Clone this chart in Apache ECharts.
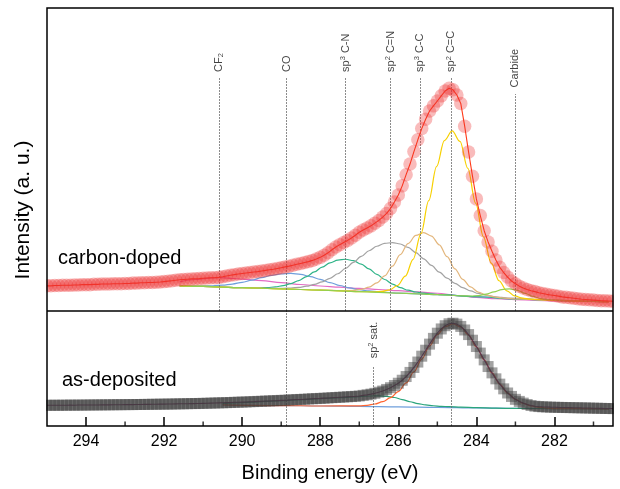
<!DOCTYPE html>
<html>
<head>
<meta charset="utf-8">
<script src="https://cdn.jsdelivr.net/npm/echarts@6.0.0/dist/echarts.min.js"></script>
<style>
html,body{margin:0;padding:0;background:#fff;}
#chart{width:620px;height:489px;}
</style>
</head>
<body>
<div id="chart"></div>
<script>
// ---------------- DATA ----------------
// Sampling grid of both spectra: 295.0 eV down to 280.5 eV, 0.1 eV step
const E_START = 295.0;
const E_STEP = 0.1;

// carbon-doped spectrum (upper panel, a.u.)
const carbonDoped = [
  8.3,8.3,8.4,8.4,8.5,8.5,8.5,8.6,8.6,8.7,
  8.7,8.7,8.8,8.8,8.9,8.9,8.9,9.0,9.0,9.0,
  9.1,9.1,9.2,9.2,9.3,9.3,9.4,9.4,9.5,9.55,
  9.7,9.85,10.0,10.15,10.3,10.4,10.5,10.6,10.65,10.7,
  10.8,10.9,10.95,11.0,11.1,11.3,11.55,11.8,12.0,12.2,
  12.4,12.55,12.7,12.85,13.0,13.2,13.4,13.6,13.8,14.05,
  14.3,14.55,14.8,15.1,15.4,15.7,16.0,16.3,16.7,17.15,
  17.7,18.4,19.2,20.2,21.1,21.9,22.6,23.3,24.1,25.0,
  26.0,26.7,27.4,28.1,29.0,29.9,31.0,32.2,33.8,36.0,
  38.3,41.3,45.0,48.5,52.6,56.5,60.2,63.3,66.0,67.7,
  69.3,71.0,72.6,73.5,73.0,71.3,68.5,61.0,52.5,44.5,
  37.0,31.5,26.5,22.8,19.7,16.8,14.4,12.7,11.2,9.9,
  9.0,8.2,7.6,7.1,6.7,6.4,6.0,5.75,5.5,5.3,
  5.1,4.9,4.65,4.5,4.35,4.2,4.05,3.9,3.8,3.7,
  3.6,3.5,3.4,3.35,3.3,3.2
];

// as-deposited spectrum (lower panel, a.u.)
const asDeposited = [
  18.0,18.0,18.1,18.0,18.1,18.1,18.2,18.1,18.2,18.2,
  18.2,18.3,18.3,18.3,18.4,18.4,18.4,18.5,18.5,18.5,
  18.6,18.6,18.6,18.7,18.7,18.8,18.8,18.9,18.9,19.0,
  19.0,19.1,19.1,19.2,19.3,19.3,19.4,19.5,19.5,19.6,
  19.7,19.8,19.9,20.0,20.1,20.2,20.3,20.4,20.6,20.7,
  20.8,20.9,21.1,21.2,21.4,21.5,21.7,21.8,22.0,22.1,
  22.3,22.4,22.6,22.8,23.0,23.1,23.3,23.5,23.7,23.85,
  24.0,24.2,24.4,24.6,24.8,25.0,25.2,25.4,25.6,25.8,
  26.1,26.65,27.1,27.7,28.4,29.4,30.4,31.8,33.3,35.2,
  37.2,39.8,43.0,46.6,50.9,55.6,60.7,65.9,71.2,76.2,
  80.7,84.4,87.2,88.9,89.4,88.6,86.6,83.5,79.5,74.6,
  69.1,63.4,57.5,51.7,46.2,41.0,36.4,32.3,28.7,25.7,
  23.2,21.4,19.9,18.7,17.8,17.2,16.9,16.7,16.55,16.4,
  16.3,16.2,16.15,16.05,16.0,15.9,15.85,15.75,15.7,15.6,
  15.5,15.45,15.35,15.25,15.2,15.1
];

// fitted components of the carbon-doped spectrum: [eV, a.u.]
const cdCF2 = [[291.6,9.6],[291.2,10.4],[290.9,10.8],[290.6,11.0],[290.3,10.8],[290.0,10.5],[289.5,10.0],[289.0,9.35],[288.5,8.75],[288.0,8.25],[287.5,7.85],[287.0,7.45],[286.5,7.1],[286.0,6.7],[285.5,6.3],[285.0,5.85],[284.5,5.1],[284.0,4.5],[283.5,4.05],[283.0,3.75],[282.5,3.5],[282.0,3.35],[281.0,3.2],[280.6,3.1]];
const cdCO = [[291.6,8.3],[291.0,8.26],[290.75,8.33],[290.5,8.52],[290.25,8.9],[290.0,9.46],[289.75,10.2],[289.5,11.02],[289.25,11.77],[289.0,12.28],[288.75,12.4],[288.5,12.08],[288.25,11.37],[288.0,10.42],[287.75,9.38],[287.5,8.41],[287.25,7.63],[287.0,7.02],[286.75,6.61],[286.5,6.31],[286.25,6.1],[286.0,5.9],[285.0,5.4],[284.0,4.7],[283.0,4.0],[282.0,3.5],[281.0,3.2],[280.6,3.1]];
const cdSp3CN = [[291.6,8.3],[291.0,8.1],[290.0,7.7],[289.75,7.66],[289.55,7.66],[289.35,7.74],[289.15,7.95],[288.95,8.36],[288.75,9.04],[288.55,10.04],[288.35,11.36],[288.15,12.9],[287.95,14.5],[287.75,15.88],[287.55,16.81],[287.35,17.08],[287.15,16.61],[286.95,15.48],[286.75,13.9],[286.55,12.12],[286.35,10.4],[286.15,8.9],[285.95,7.72],[285.75,6.86],[285.55,6.27],[285.35,5.88],[285.15,5.62],[284.95,5.43],[284.0,4.7],[283.0,4.0],[282.0,3.5],[281.0,3.2],[280.6,3.1]];
const cdSp2CN = [[291.6,8.3],[291.0,8.1],[290.0,7.7],[289.15,7.47],[288.95,7.5],[288.75,7.59],[288.55,7.8],[288.35,8.18],[288.15,8.77],[287.95,9.64],[287.75,10.8],[287.55,12.29],[287.35,14.05],[287.15,16.03],[286.95,18.02],[286.75,19.88],[286.55,21.37],[286.35,22.31],[286.15,22.58],[285.95,22.11],[285.75,20.97],[285.55,19.28],[285.35,17.22],[285.15,15.03],[284.95,12.84],[284.75,10.84],[284.55,9.11],[284.35,7.71],[284.15,6.62],[283.95,5.81],[283.75,5.21],[283.55,4.78],[283.35,4.47],[283.15,4.22],[282.0,3.5],[281.0,3.2],[280.6,3.1]];
const cdSp3CC = [[291.6,8.3],[291.0,8.1],[290.0,7.7],[289.0,7.3],[288.0,6.9],[287.35,6.69],[287.15,6.78],[286.95,7.11],[286.75,7.86],[286.55,9.31],[286.35,11.6],[286.15,14.81],[285.95,18.59],[285.75,22.26],[285.55,24.94],[285.35,25.88],[285.15,24.74],[284.95,21.85],[284.75,17.94],[284.55,13.92],[284.35,10.47],[284.15,7.94],[283.95,6.25],[283.75,5.26],[283.55,4.69],[283.35,4.36],[283.0,4.0],[282.0,3.5],[281.0,3.2],[280.6,3.1]];
const cdSp2CC = [[291.6,8.3],[291.0,8.1],[290.0,7.7],[289.0,7.3],[288.0,6.9],[287.0,6.4],[286.62,6.31],[286.42,6.45],[286.22,6.99],[286.02,8.42],[285.82,11.51],[285.62,17.06],[285.42,25.54],[285.22,36.41],[285.02,47.66],[284.82,56.26],[284.62,59.43],[284.42,55.98],[284.22,47.1],[284.02,35.61],[283.82,24.5],[283.62,15.78],[283.42,9.99],[283.22,6.66],[283.02,4.99],[282.82,4.25],[282.62,3.91],[282.0,3.5],[281.0,3.2],[280.6,3.1]];
const cdCarbide = [[291.6,8.3],[291.0,8.1],[290.0,7.7],[289.0,7.3],[288.0,6.9],[287.0,6.4],[286.0,5.9],[285.0,5.4],[284.35,4.99],[284.15,4.95],[283.95,5.1],[283.75,5.57],[283.55,6.33],[283.35,7.07],[283.15,7.31],[282.95,6.8],[282.75,5.82],[282.55,4.82],[282.35,4.11],[282.15,3.72],[281.95,3.53],[281.0,3.2],[280.6,3.1]];

// fitted components of the as-deposited spectrum: [eV, a.u.]
const adBackground = [[290.5,18.4],[289.0,17.8],[288.0,17.4],[287.0,17.0],[286.0,16.6],[285.0,16.2],[284.0,15.7],[283.0,15.3],[282.0,15.1],[280.6,14.9]];
const adSp2Sat = [[290.5,19.6],[290.0,20.4],[289.5,21.2],[289.0,22.0],[288.5,22.9],[288.0,23.8],[287.5,24.6],[287.0,25.6],[286.7,26.1],[286.5,26.2],[286.3,25.8],[286.1,24.8],[285.9,23.0],[285.7,21.1],[285.5,19.5],[285.3,18.3],[285.1,17.6],[284.9,17.1],[284.7,16.8],[284.4,16.4],[284.0,15.9],[283.5,15.5],[283.0,15.3],[282.0,15.1],[280.6,14.9]];
const adSp2 = [[290.5,18.4],[289.0,17.8],[288.0,17.4],[287.0,17.49],[286.8,18.02],[286.6,19.12],[286.4,21.16],[286.2,24.6],[286.0,29.9],[285.8,37.42],[285.6,47.04],[285.4,58.16],[285.2,69.48],[285.0,79.5],[284.8,86.3],[284.6,88.7],[284.4,86.1],[284.2,79.1],[284.0,68.9],[283.8,57.42],[283.6,46.14],[283.4,36.36],[283.2,28.68],[283.0,23.22],[282.8,19.66],[282.6,17.5],[282.4,16.28],[282.2,15.63],[282.0,15.1],[280.6,14.9]];

// peak assignments (binding energies, eV) and their labels
const cdMarkerEnergy = [290.6, 288.86, 287.35, 286.2, 285.45, 284.65, 283.0];
const cdMarkerText = ['CF{sub|2}', 'CO', 'sp{sup|3} C-N', 'sp{sup|2} C=N', 'sp{sup|3} C-C', 'sp{sup|2} C=C', 'Carbide'];
const adMarkerEnergy = [288.86, 286.63, 284.65];
const adMarkerText = ['', 'sp{sup|2} sat.', ''];

// axis ticks
const xMajorTicks = [282, 284, 286, 288, 290, 292, 294];
const xMinorTicks = [281, 283, 285, 287, 289, 291, 293];

// ---------------- build ----------------
const toPairs = arr => arr.map((v, i) => [+(E_START - i * E_STEP).toFixed(2), v]);

// annotation layout (in each panel's value units)
const cdLineTop = [77.1, 77.1, 77.1, 77.1, 77.1, 77.1, 71.6];
const cdLabelAt = [78.9, 78.9, 78.9, 78.9, 78.9, 78.9, 73.8];
const adLineTop = [100, 51.6, 100];
const adLabelAt = [null, 58.9, null];

const FONT = '"Liberation Sans", Arial, sans-serif';
const vLineStyle = { color: '#6e6e6e', width: 0.8, type: [2, 1] };
const labelRich = {
  sup: { fontSize: 7.5, lineHeight: 8, verticalAlign: 'top', color: '#111', fontFamily: FONT },
  sub: { fontSize: 7.5, lineHeight: 8, verticalAlign: 'bottom', color: '#111', fontFamily: FONT }
};

function comp(name, data, color, xi, yi) {
  return {
    name, type: 'line', data, xAxisIndex: xi, yAxisIndex: yi,
    showSymbol: false, smooth: 0.35, smoothMonotone: 'x',
    lineStyle: { color, width: 1.2 }, z: 3, silent: true
  };
}

function markerSeries(energies, texts, lineTops, labelAt, xi, yi) {
  const pts = [];
  energies.forEach((e, i) => {
    if (texts[i]) pts.push({ value: [e, labelAt[i]], name: texts[i] });
  });
  return {
    type: 'scatter', xAxisIndex: xi, yAxisIndex: yi, symbolSize: 0, z: 2, silent: true,
    data: pts,
    label: {
      show: true, position: 'inside', rotate: 90, align: 'left', verticalAlign: 'middle',
      formatter: p => p.name, fontSize: 11, lineHeight: 13, color: '#111', fontFamily: FONT,
      rich: labelRich
    },
    markLine: {
      silent: true, symbol: 'none', animation: false,
      lineStyle: vLineStyle, label: { show: false },
      data: energies.map((e, i) => [{ coord: [e, 0] }, { coord: [e, lineTops[i]] }])
    }
  };
}

const chart = echarts.init(document.getElementById('chart'), null, { renderer: 'canvas' });

// frame geometry (pixels) shared by grids and the frame overlay
const FR = { left: 47, right: 613, top: 8, mid: 311, bottom: 426 };

const option = {
  animation: false,
  backgroundColor: '#fff',
  textStyle: { fontFamily: FONT },
  grid: [
    { left: FR.left, right: 620 - FR.right, top: FR.top, height: FR.mid - FR.top, show: false },
    { left: FR.left, right: 620 - FR.right, top: FR.mid, height: FR.bottom - FR.mid, show: false }
  ],
  xAxis: [
    { type: 'value', gridIndex: 0, min: 280.5, max: 295, inverse: true, position: 'bottom',
      axisLine: { show: false }, axisTick: { show: false }, axisLabel: { show: false }, splitLine: { show: false } },
    { type: 'value', gridIndex: 1, min: 280.5, max: 295, inverse: true, position: 'bottom',
      axisLine: { show: false }, splitLine: { show: false },
      axisTick: { show: true, inside: true, length: 9, customValues: xMajorTicks, lineStyle: { color: '#000', width: 1.5 } },
      axisLabel: { show: true, customValues: xMajorTicks, fontSize: 16, color: '#000', margin: 8, fontFamily: FONT },
      name: 'Binding energy (eV)', nameLocation: 'middle', nameGap: 37,
      nameTextStyle: { fontSize: 20, color: '#000', fontFamily: FONT } }
  ],
  yAxis: [
    { type: 'value', gridIndex: 0, min: 0, max: 100, show: false },
    { type: 'value', gridIndex: 1, min: 0, max: 100, show: false }
  ],
  graphic: [
    // white margins so the plot symbols are cut at the frame
    { type: 'rect', shape: { x: 0, y: 0, width: FR.left - 0.7, height: 489 }, style: { fill: '#fff' }, z: 100, silent: true },
    { type: 'rect', shape: { x: FR.right + 0.7, y: 0, width: 620 - FR.right, height: 489 }, style: { fill: '#fff' }, z: 100, silent: true },
    // frame
    { type: 'rect', shape: { x: FR.left, y: FR.top, width: FR.right - FR.left, height: FR.bottom - FR.top }, style: { fill: 'none', stroke: '#000', lineWidth: 1.5 }, z: 101, silent: true },
    { type: 'line', shape: { x1: FR.left, y1: FR.mid, x2: FR.right, y2: FR.mid }, style: { stroke: '#000', lineWidth: 1.5 }, z: 101, silent: true },
    // texts
    { type: 'text', x: 58, y: 258, style: { text: 'carbon-doped', font: '20px ' + FONT, fill: '#000', textVerticalAlign: 'middle' }, z: 102 },
    { type: 'text', x: 62, y: 380, style: { text: 'as-deposited', font: '20px ' + FONT, fill: '#000', textVerticalAlign: 'middle' }, z: 102 },
    { type: 'text', x: 23, y: 210, rotation: Math.PI / 2, style: { text: 'Intensity (a. u.)', font: '21px ' + FONT, fill: '#000', textAlign: 'center', textVerticalAlign: 'middle' }, z: 102 }
  ],
  series: [
    markerSeries(cdMarkerEnergy, cdMarkerText, cdLineTop, cdLabelAt, 0, 0),
    markerSeries(adMarkerEnergy, adMarkerText, adLineTop, adLabelAt, 1, 1),

    // minor ticks on the bottom axis (odd eV values), short bars standing inside the frame
    {
      name: 'minor ticks', type: 'scatter', xAxisIndex: 1, yAxisIndex: 1, z: 6, silent: true,
      data: xMinorTicks.map(e => [e, 0]),
      symbol: 'rect', symbolSize: [1.5, 4.5], symbolOffset: [0, -2.25], clip: false,
      itemStyle: { color: '#000' }
    },

    comp('CF2', cdCF2, '#e46cc4', 0, 0),
    comp('CO', cdCO, '#6f9fdc', 0, 0),
    comp('sp3 C-N', cdSp3CN, '#2fb488', 0, 0),
    comp('sp2 C=N', cdSp2CN, '#a3a3a3', 0, 0),
    comp('sp3 C-C', cdSp3CC, '#e3b67c', 0, 0),
    comp('sp2 C=C', cdSp2CC, '#f7d000', 0, 0),
    comp('Carbide', cdCarbide, '#92d050', 0, 0),
    {
      name: 'carbon-doped', type: 'line', xAxisIndex: 0, yAxisIndex: 0, z: 5,
      data: toPairs(carbonDoped), showSymbol: true, showAllSymbol: true,
      symbol: 'circle', symbolSize: 13.5,
      itemStyle: { color: 'rgba(238,50,50,0.33)', borderWidth: 0 },
      lineStyle: { color: '#ff3a18', width: 1.1 }, silent: true
    },

    comp('background', adBackground, '#6f9fdc', 1, 1),
    comp('sp2 sat.', adSp2Sat, '#2aa57c', 1, 1),
    comp('sp2', adSp2, '#ff6633', 1, 1),
    {
      name: 'as-deposited', type: 'line', xAxisIndex: 1, yAxisIndex: 1, z: 5,
      data: toPairs(asDeposited), showSymbol: true, showAllSymbol: true,
      symbol: 'rect', symbolSize: 11,
      itemStyle: { color: 'rgba(60,60,60,0.48)', borderWidth: 0 },
      lineStyle: { color: '#8a2c6c', width: 1.1 }, silent: true
    }
  ]
};
chart.setOption(option);
</script>
</body>
</html>
